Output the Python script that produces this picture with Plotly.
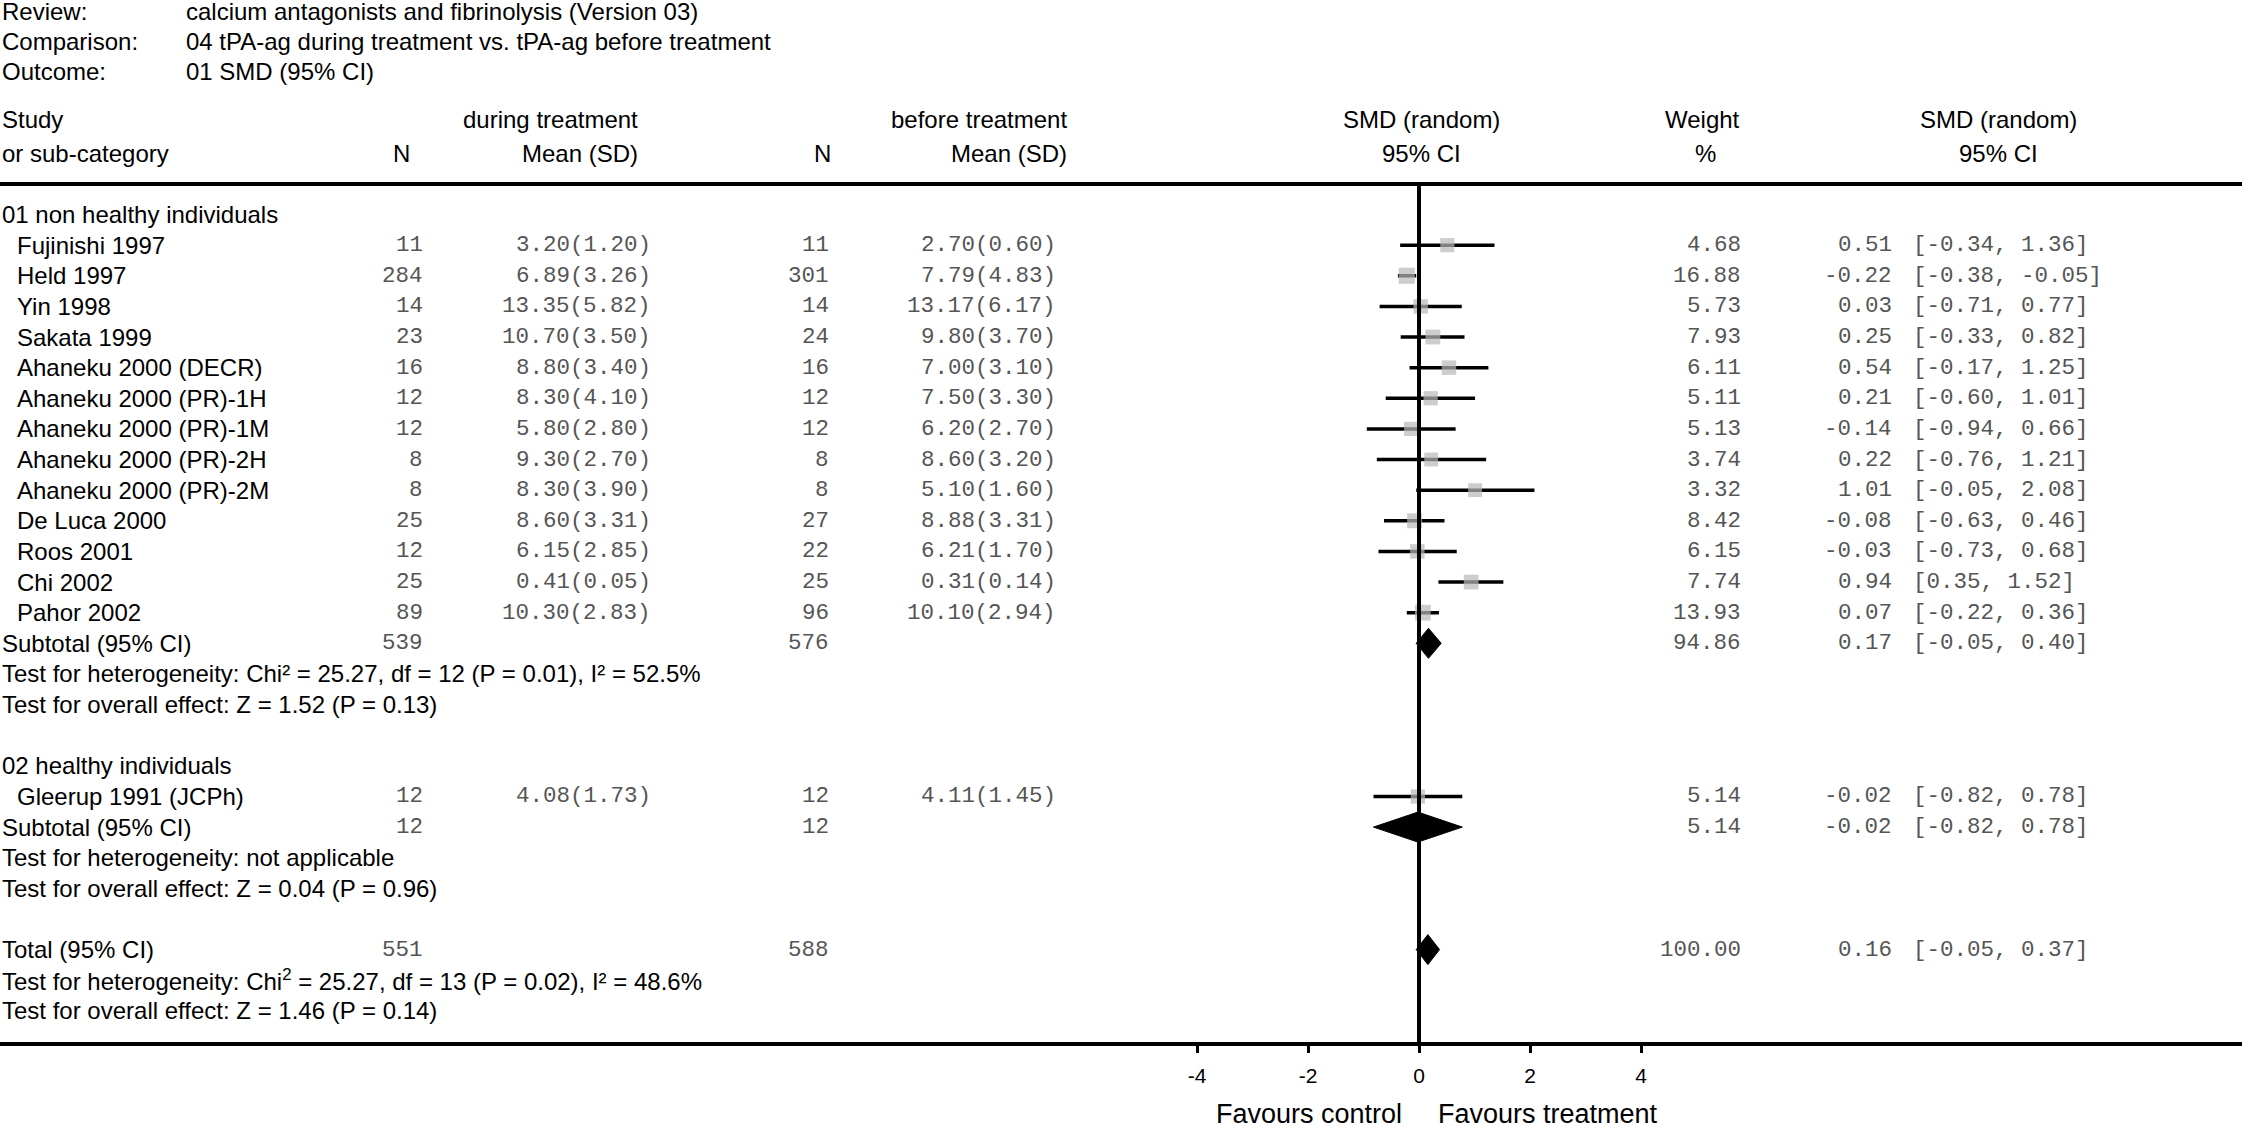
import math
import plotly.graph_objects as go

# ---- data ----
review = "calcium antagonists and fibrinolysis (Version 03)"
comparison = "04 tPA-ag during treatment vs. tPA-ag before treatment"
outcome = "01 SMD (95% CI)"

group_names = ["01 non healthy individuals", "02 healthy individuals"]

studies = ["Fujinishi 1997", "Held 1997", "Yin 1998", "Sakata 1999",
           "Ahaneku 2000 (DECR)", "Ahaneku 2000 (PR)-1H", "Ahaneku 2000 (PR)-1M",
           "Ahaneku 2000 (PR)-2H", "Ahaneku 2000 (PR)-2M", "De Luca 2000",
           "Roos 2001", "Chi 2002", "Pahor 2002", "Gleerup 1991 (JCPh)"]
study_group = [0, 0, 0, 0, 0, 0, 0, 0, 0, 0, 0, 0, 0, 1]

n_trt = [11, 284, 14, 23, 16, 12, 12, 8, 8, 25, 12, 25, 89, 12]
mean_trt = [3.20, 6.89, 13.35, 10.70, 8.80, 8.30, 5.80, 9.30, 8.30, 8.60, 6.15, 0.41, 10.30, 4.08]
sd_trt = [1.20, 3.26, 5.82, 3.50, 3.40, 4.10, 2.80, 2.70, 3.90, 3.31, 2.85, 0.05, 2.83, 1.73]
n_ctl = [11, 301, 14, 24, 16, 12, 12, 8, 8, 27, 22, 25, 96, 12]
mean_ctl = [2.70, 7.79, 13.17, 9.80, 7.00, 7.50, 6.20, 8.60, 5.10, 8.88, 6.21, 0.31, 10.10, 4.11]
sd_ctl = [0.60, 4.83, 6.17, 3.70, 3.10, 3.30, 2.70, 3.20, 1.60, 3.31, 1.70, 0.14, 2.94, 1.45]
weight = [4.68, 16.88, 5.73, 7.93, 6.11, 5.11, 5.13, 3.74, 3.32, 8.42, 6.15, 7.74, 13.93, 5.14]
smd = [0.51, -0.22, 0.03, 0.25, 0.54, 0.21, -0.14, 0.22, 1.01, -0.08, -0.03, 0.94, 0.07, -0.02]
ci_lo = [-0.34, -0.38, -0.71, -0.33, -0.17, -0.60, -0.94, -0.76, -0.05, -0.63, -0.73, 0.35, -0.22, -0.82]
ci_hi = [1.36, -0.05, 0.77, 0.82, 1.25, 1.01, 0.66, 1.21, 2.08, 0.46, 0.68, 1.52, 0.36, 0.78]

# subtotal 1, subtotal 2, total
pool_label = ["Subtotal (95% CI)", "Subtotal (95% CI)", "Total (95% CI)"]
pool_n_trt = [539, 12, 551]
pool_n_ctl = [576, 12, 588]
pool_weight = [94.86, 5.14, 100.00]
pool_smd = [0.17, -0.02, 0.16]
pool_lo = [-0.05, -0.82, -0.05]
pool_hi = [0.40, 0.78, 0.37]
het_text = ["Test for heterogeneity: Chi² = 25.27, df = 12 (P = 0.01), I² = 52.5%",
            "Test for heterogeneity: not applicable",
            "Test for heterogeneity: Chi<sup>2</sup> = 25.27, df = 13 (P = 0.02), I² = 48.6%"]
effect_text = ["Test for overall effect: Z = 1.52 (P = 0.13)",
               "Test for overall effect: Z = 0.04 (P = 0.96)",
               "Test for overall effect: Z = 1.46 (P = 0.14)"]

x_ticks = [-4, -2, 0, 2, 4]

# ---- page geometry (pixels) ----
W, H = 2242, 1126
X0_PX = 1419          # where SMD = 0 sits
PX_PER_UNIT = 55.5
AXIS_Y = 1042
TOP_RULE_Y = 184
ROW0_Y = 214.5
ROW_STEP = 30.63
DIAMOND_HALF = 15

SANS = "Liberation Sans, Arial, sans-serif"
MONO = "Liberation Mono, Courier New, monospace"
NUM_COLOR = "#555555"

def px(x):
    return x / W

def py(y):
    return 1 - y / H

annotations = []

def txt(x, y, s, anchor="left", mono=False, size=None, color=None):
    annotations.append(dict(
        x=px(x), y=py(y), xref="paper", yref="paper", text=s, showarrow=False,
        xanchor=anchor, yanchor="middle", borderpad=0, borderwidth=0,
        font=dict(family=MONO if mono else SANS,
                  size=size or (22.5 if mono else 24),
                  color=color or (NUM_COLOR if mono else "black"))))

# header block
for i, (k, v) in enumerate([("Review:", review), ("Comparison:", comparison), ("Outcome:", outcome)]):
    txt(2, 11 + i * 30.3, k)
    txt(186, 11 + i * 30.3, v)

txt(2, 119, "Study")
txt(2, 154, "or sub-category")
txt(638, 119, "during treatment", "right")
txt(410, 154, "N", "right")
txt(638, 154, "Mean (SD)", "right")
txt(1067, 119, "before treatment", "right")
txt(831, 154, "N", "right")
txt(1067, 154, "Mean (SD)", "right")
txt(1421, 119, "SMD (random)", "center")
txt(1421, 154, "95% CI", "center")
txt(1702, 119, "Weight", "center")
txt(1705, 154, "%", "center")
txt(1998, 119, "SMD (random)", "center")
txt(1998, 154, "95% CI", "center")

# ---- lay out rows ----
study_rows = []
pool_rows = []
row = 0
for g in range(2):
    txt(2, ROW0_Y + row * ROW_STEP, group_names[g])
    row += 1
    for i, s in enumerate(studies):
        if study_group[i] == g:
            study_rows.append((i, ROW0_Y + row * ROW_STEP))
            row += 1
    pool_rows.append((g, ROW0_Y + row * ROW_STEP))
    txt(2, ROW0_Y + (row + 1) * ROW_STEP, het_text[g])
    txt(2, ROW0_Y + (row + 2) * ROW_STEP, effect_text[g])
    row += 4
pool_rows.append((2, ROW0_Y + row * ROW_STEP))
txt(2, ROW0_Y + (row + 1) * ROW_STEP, het_text[2])
txt(2, ROW0_Y + (row + 2) * ROW_STEP, effect_text[2])

for i, y in study_rows:
    txt(17, y, studies[i])
    txt(423, y, str(n_trt[i]), "right", mono=True)
    txt(651, y, f"{mean_trt[i]:.2f}({sd_trt[i]:.2f})", "right", mono=True)
    txt(829, y, str(n_ctl[i]), "right", mono=True)
    txt(1056, y, f"{mean_ctl[i]:.2f}({sd_ctl[i]:.2f})", "right", mono=True)
    txt(1741, y, f"{weight[i]:.2f}", "right", mono=True)
    txt(1892, y, f"{smd[i]:.2f}", "right", mono=True)
    txt(1913, y, f"[{ci_lo[i]:.2f}, {ci_hi[i]:.2f}]", "left", mono=True)

for k, y in pool_rows:
    txt(2, y, pool_label[k])
    txt(423, y, str(pool_n_trt[k]), "right", mono=True)
    txt(829, y, str(pool_n_ctl[k]), "right", mono=True)
    txt(1741, y, f"{pool_weight[k]:.2f}", "right", mono=True)
    txt(1892, y, f"{pool_smd[k]:.2f}", "right", mono=True)
    txt(1913, y, f"[{pool_lo[k]:.2f}, {pool_hi[k]:.2f}]", "left", mono=True)

txt(1402, 1114, "Favours control", "right", size=27)
txt(1438, 1114, "Favours treatment", "left", size=27)

# ---- marks ----
fig = go.Figure()

ci_x, ci_y = [], []
for i, y in study_rows:
    ci_x += [ci_lo[i], ci_hi[i], None]
    ci_y += [y, y, None]
fig.add_trace(go.Scatter(x=ci_x, y=ci_y, mode="lines",
                         line=dict(color="black", width=3.5), hoverinfo="skip"))

fig.add_trace(go.Scatter(
    x=[smd[i] for i, _ in study_rows], y=[y for _, y in study_rows], mode="markers",
    marker=dict(symbol="square", color="#b8b8b8",
                size=[12 + math.sqrt(weight[i]) for i, _ in study_rows],
                line=dict(width=0))))

for k, y in pool_rows:
    fig.add_trace(go.Scatter(
        x=[pool_lo[k], pool_smd[k], pool_hi[k], pool_smd[k], pool_lo[k]],
        y=[y, y - DIAMOND_HALF, y, y + DIAMOND_HALF, y],
        mode="lines", fill="toself", fillcolor="black",
        line=dict(color="black", width=1), hoverinfo="skip"))

shapes = [
    dict(type="line", xref="paper", yref="y", x0=0, x1=1, y0=TOP_RULE_Y, y1=TOP_RULE_Y,
         line=dict(color="black", width=4)),
    dict(type="line", xref="x", yref="y", x0=0, x1=0, y0=TOP_RULE_Y, y1=AXIS_Y,
         line=dict(color="black", width=4)),
]

fig.update_layout(
    width=W, height=H, margin=dict(l=0, r=0, t=0, b=0),
    paper_bgcolor="white", plot_bgcolor="white", showlegend=False,
    annotations=annotations, shapes=shapes,
    xaxis=dict(domain=[0, 1], range=[-X0_PX / PX_PER_UNIT, (W - X0_PX) / PX_PER_UNIT],
               tickvals=x_ticks, ticktext=[str(t) for t in x_ticks],
               showgrid=False, zeroline=False, showline=True, linecolor="black", linewidth=4,
               ticks="outside", ticklen=7, tickwidth=3, tickcolor="black",
               ticklabelstandoff=5,
               tickfont=dict(family=SANS, size=21, color="black")),
    yaxis=dict(domain=[(H - AXIS_Y) / H, 1], range=[AXIS_Y, 0], visible=False),
)

fig.write_html("out.html", config={"displayModeBar": False},
               post_script="document.body.style.margin='0';document.body.style.overflow='hidden';")
